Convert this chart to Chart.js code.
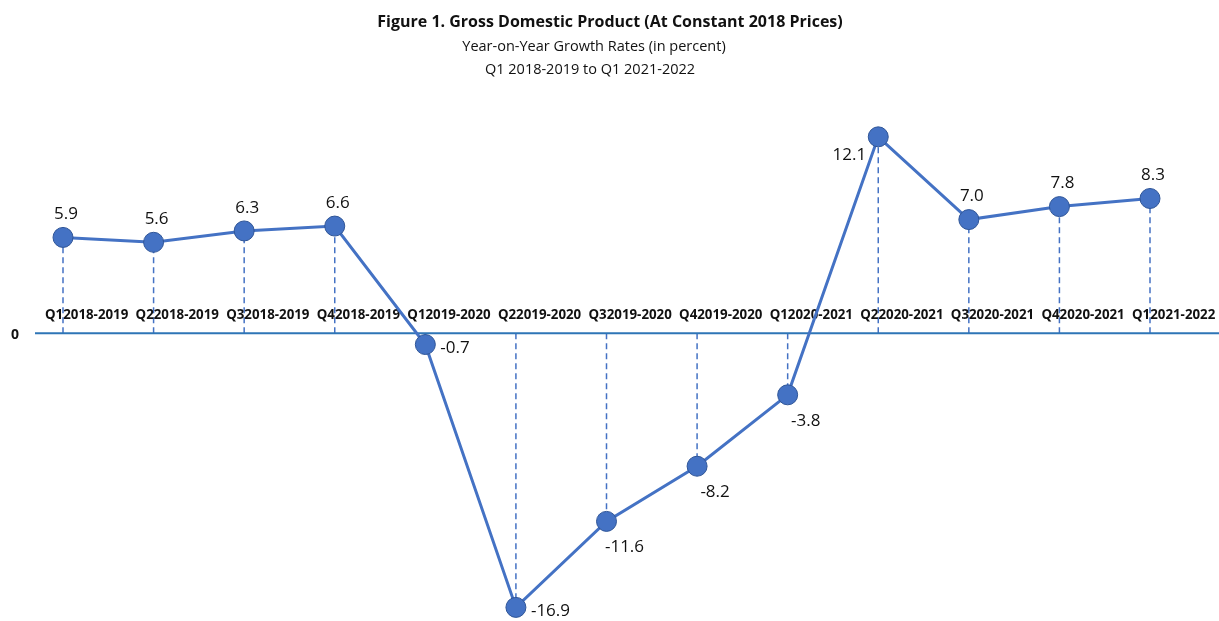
<!DOCTYPE html>
<html>
<head>
<meta charset="utf-8">
<script src="https://cdn.jsdelivr.net/npm/chart.js@4/dist/chart.umd.min.js"></script>
<style>
  html, body { margin: 0; padding: 0; background: #ffffff; }
  #wrap { width: 1219px; height: 621px; position: relative; }
</style>
</head>
<body>
<div id="wrap"><canvas id="c"></canvas></div>
<script>
// ---- data ----
const categories = ['Q12018-2019','Q22018-2019','Q32018-2019','Q42018-2019',
  'Q12019-2020','Q22019-2020','Q32019-2020','Q42019-2020',
  'Q12020-2021','Q22020-2021','Q32020-2021','Q42020-2021','Q12021-2022'];
const growth = [5.9, 5.6, 6.3, 6.6, -0.7, -16.9, -11.6, -8.2, -3.8, 12.1, 7.0, 7.8, 8.3];
const valueLabels = growth.map(v => v.toFixed(1));
const titleText = 'Figure 1. Gross Domestic Product (At Constant 2018 Prices)';
const subtitleLines = ['Year-on-Year Growth Rates (in percent)', 'Q1 2018-2019 to Q1 2021-2022'];
const zeroLabel = '0';

// ---- styling / placement config ----
const labelPlacement = ['top','top','top','top','right','right','bottom','bottom','bottom','left','top','top','top'];
const BLUE = '#4472C4';
const AXIS_BLUE = '#2E75B6';

const customPlugin = {
  id: 'custom',
  beforeDatasetsDraw(chart) {
    const ctx = chart.ctx;
    const xs = chart.scales.x, ys = chart.scales.y;
    const y0 = ys.getPixelForValue(0);
    ctx.save();
    // drop lines
    ctx.strokeStyle = BLUE;
    ctx.lineWidth = 1.5;
    ctx.setLineDash([6, 4]);
    growth.forEach((v, i) => {
      const x = xs.getPixelForValue(i);
      const y = ys.getPixelForValue(v);
      ctx.beginPath();
      ctx.moveTo(x, y0);
      ctx.lineTo(x, y);
      ctx.stroke();
    });
    ctx.setLineDash([]);
    // zero line
    ctx.strokeStyle = AXIS_BLUE;
    ctx.lineWidth = 2;
    ctx.beginPath();
    ctx.moveTo(35, y0);
    ctx.lineTo(chart.width, y0);
    ctx.stroke();
    // zero label
    ctx.fillStyle = '#111';
    ctx.font = 'bold 14px "Open Sans"';
    ctx.textAlign = 'center';
    ctx.textBaseline = 'middle';
    ctx.fillText(zeroLabel, 15, y0 + 2);
    // category labels
    ctx.font = 'bold 13.3px "Open Sans"';
    ctx.textAlign = 'left';
    categories.forEach((c, i) => {
      const x = xs.getPixelForValue(i);
      ctx.fillText(c, x - 18, y0 - 18);
    });
    ctx.restore();
  },
  afterDatasetsDraw(chart) {
    const ctx = chart.ctx;
    const xs = chart.scales.x, ys = chart.scales.y;
    ctx.save();
    ctx.fillStyle = '#111';
    ctx.font = '17px "Open Sans"';
    ctx.textBaseline = 'middle';
    growth.forEach((v, i) => {
      const x = xs.getPixelForValue(i);
      const y = ys.getPixelForValue(v);
      const p = labelPlacement[i];
      if (p === 'top') { ctx.textAlign = 'center'; ctx.fillText(valueLabels[i], x + 3, y - 23); }
      else if (p === 'right') { ctx.textAlign = 'left'; ctx.fillText(valueLabels[i], x + 15, y + 4); }
      else if (p === 'bottom') { ctx.textAlign = 'center'; ctx.fillText(valueLabels[i], x + 18, y + 26); }
      else { ctx.textAlign = 'right'; ctx.fillText(valueLabels[i], x - 12, y + 18); }
    });
    // titles
    ctx.textAlign = 'center';
    ctx.font = 'bold 16px "Open Sans"';
    ctx.fillText(titleText, 610, 22);
    ctx.font = '14.5px "Open Sans"';
    ctx.fillText(subtitleLines[0], 594, 47);
    ctx.fillText(subtitleLines[1], 590, 70);
    ctx.restore();
  }
};

new Chart(document.getElementById('c'), {
  type: 'line',
  data: {
    labels: categories,
    datasets: [{
      data: growth,
      borderColor: BLUE,
      borderWidth: 3,
      backgroundColor: BLUE,
      pointBackgroundColor: BLUE,
      pointBorderColor: '#2F5597',
      pointBorderWidth: 1,
      pointRadius: 10,
      tension: 0,
      clip: false
    }]
  },
  options: {
    responsive: true,
    maintainAspectRatio: false,
    animation: false,
    events: [],
    layout: { padding: { left: 63, right: 69, top: 106, bottom: 12 } },
    plugins: { legend: { display: false }, title: { display: false }, tooltip: { enabled: false } },
    scales: {
      x: { type: 'category', display: false, offset: false },
      y: { display: false, min: -17, max: 14 }
    }
  },
  plugins: [customPlugin]
});
</script>
</body>
</html>
